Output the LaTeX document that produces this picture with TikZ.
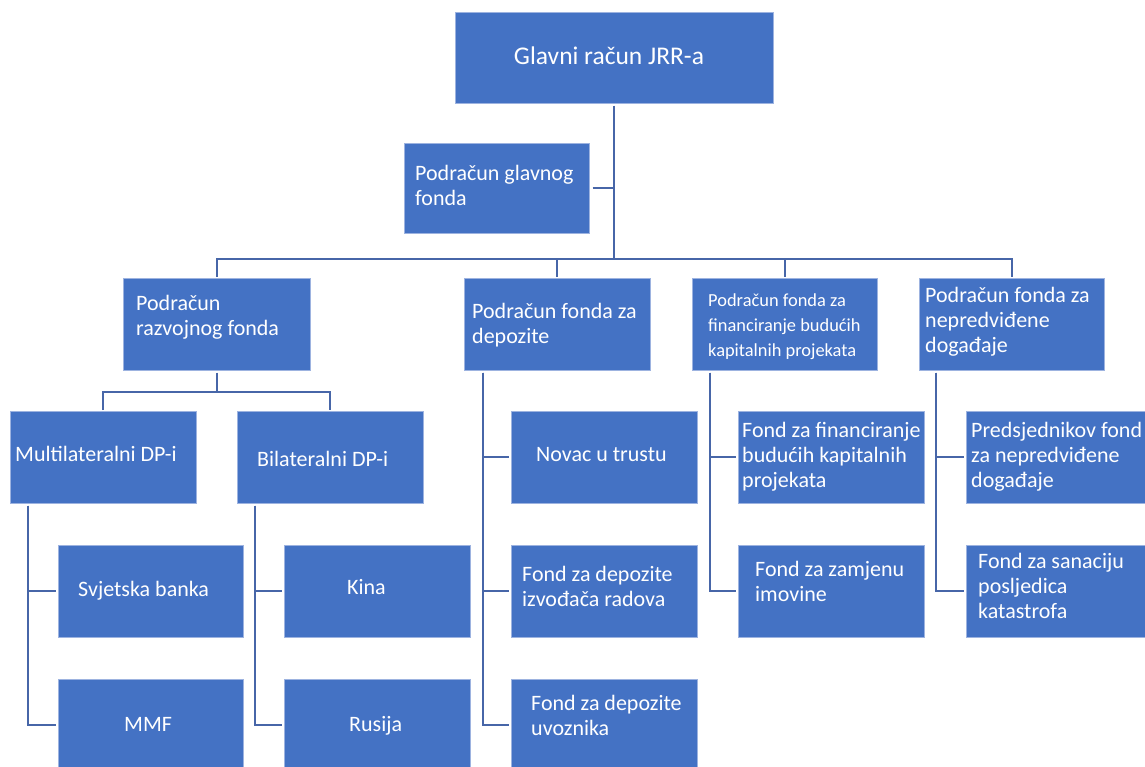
\documentclass[tikz,border=0pt]{standalone}
\usepackage{fontspec}
\setmainfont{Carlito}
\definecolor{boxblue}{HTML}{4472C4}
\definecolor{boxedge}{HTML}{9DB3E0}
\definecolor{connblue}{HTML}{4766A8}
\newcommand{\ml}[1]{\begin{tabular}[t]{@{}l@{}}#1\end{tabular}}
\tikzset{
  box/.style={draw=boxedge, line width=0.7pt, fill=boxblue, anchor=north west, inner sep=0pt, minimum height=92pt},
  txt/.style={text=white, inner sep=0pt, anchor=base west, font=\fontsize{22}{25}\selectfont},
  smalltxt/.style={txt, font=\fontsize{18.4}{25}\selectfont},
  conn/.style={draw=connblue, line width=2pt}
}
\begin{document}
\begin{tikzpicture}[x=1pt, y=-1pt]
\useasboundingbox (0,0) rectangle (1145,767);
\clip (0,0) rectangle (1145,767);

% boxes
\node[box, minimum width=318pt, minimum height=91pt] (main) at (455,12) {};
\node[box, minimum width=185pt, minimum height=90pt] (glav) at (404,143) {};
\node[box, minimum width=187pt] (razv) at (123,278) {};
\node[box, minimum width=186pt] (dep) at (464,278) {};
\node[box, minimum width=185pt] (fin) at (692,278) {};
\node[box, minimum width=185pt] (nep) at (919,278) {};
\node[box, minimum width=186pt] (multi) at (10,411) {};
\node[box, minimum width=186pt] (bil) at (237,411) {};
\node[box, minimum width=185pt] (svj) at (58,545) {};
\node[box, minimum width=185pt] (mmf) at (58,679) {};
\node[box, minimum width=186pt] (kina) at (284,545) {};
\node[box, minimum width=186pt] (rus) at (284,679) {};
\node[box, minimum width=186pt] (nov) at (511,411) {};
\node[box, minimum width=186pt] (izv) at (511,545) {};
\node[box, minimum width=186pt] (uvo) at (511,679) {};
\node[box, minimum width=186pt] (ffin) at (738,411) {};
\node[box, minimum width=186pt] (zam) at (738,545) {};
\node[box, minimum width=186pt] (pre) at (966,411) {};
\node[box, minimum width=186pt] (san) at (966,545) {};

% texts
\node[txt, anchor=base, font=\fontsize{25.5}{28}\selectfont] (mainT) at (609,65) {Glavni račun JRR-a};
\node[txt] (glavT) at (415,181) {\ml{Podračun glavnog\\fonda}};
\node[txt] (razvT) at (136,310) {\ml{Podračun\\razvojnog fonda}};
\node[txt] (depT) at (472,318) {\ml{Podračun fonda za\\depozite}};
\node[smalltxt] (finT) at (708,306) {\ml{Podračun fonda za\\financiranje budućih\\kapitalnih projekata}};
\node[txt] (nepT) at (925,302) {\ml{Podračun fonda za\\nepredviđene\\događaje}};
\node[txt] (multiT) at (15,461) {Multilateralni DP-i};
\node[txt] (bilT) at (257,466) {Bilateralni DP-i};
\node[txt] (svjT) at (78,596) {Svjetska banka};
\node[txt] (kinaT) at (347,594) {Kina};
\node[txt] (mmfT) at (124,731) {MMF};
\node[txt] (rusT) at (349,731) {Rusija};
\node[txt] (novT) at (536,461) {Novac u trustu};
\node[txt] (izvT) at (522,581) {\ml{Fond za depozite\\izvođača radova}};
\node[txt] (uvoT) at (531,710) {\ml{Fond za depozite\\uvoznika}};
\node[txt] (ffinT) at (742,437) {\ml{Fond za financiranje\\budućih kapitalnih\\projekata}};
\node[txt] (zamT) at (755,576) {\ml{Fond za zamjenu\\imovine}};
\node[txt] (preT) at (971,437) {\ml{Predsjednikov fond\\za nepredviđene\\događaje}};
\node[txt] (sanT) at (978,568) {\ml{Fond za sanaciju\\posljedica\\katastrofa}};

% connectors: top level
\coordinate (tbus) at ([yshift=-155pt]main.south);
\draw[conn] ([yshift=-2pt]main.south) -- (tbus);
\draw[conn] ([xshift=3pt]glav.east) -- (glav.east -| main.south);
\draw[conn] ([yshift=1pt]razv.north) |- (tbus) -| ([yshift=1pt]nep.north);
\draw[conn] ([yshift=1pt]dep.north) -- (dep.north |- tbus);
\draw[conn] ([yshift=1pt]fin.north) -- (fin.north |- tbus);

% razvojni fond
\coordinate (rbus) at ([yshift=-21pt]razv.south);
\draw[conn] ([yshift=-2pt]razv.south) -- (rbus);
\draw[conn] ([yshift=1pt]multi.north) |- (rbus) -| ([yshift=1pt]bil.north);

% left branches
\draw[conn] ([xshift=18pt,yshift=-2pt]multi.south west) |- ([xshift=-2pt]svj.west);
\draw[conn] ([xshift=18pt,yshift=-2pt]multi.south west) |- ([xshift=-2pt]mmf.west);
\draw[conn] ([xshift=18pt,yshift=-2pt]bil.south west) |- ([xshift=-2pt]kina.west);
\draw[conn] ([xshift=18pt,yshift=-2pt]bil.south west) |- ([xshift=-2pt]rus.west);
\draw[conn] ([xshift=19pt,yshift=-2pt]dep.south west) |- ([xshift=-2pt]nov.west);
\draw[conn] ([xshift=19pt,yshift=-2pt]dep.south west) |- ([xshift=-2pt]izv.west);
\draw[conn] ([xshift=19pt,yshift=-2pt]dep.south west) |- ([xshift=-2pt]uvo.west);
\draw[conn] ([xshift=18pt,yshift=-2pt]fin.south west) |- ([xshift=-2pt]ffin.west);
\draw[conn] ([xshift=18pt,yshift=-2pt]fin.south west) |- ([xshift=-2pt]zam.west);
\draw[conn] ([xshift=17pt,yshift=-2pt]nep.south west) |- ([xshift=-2pt]pre.west);
\draw[conn] ([xshift=17pt,yshift=-2pt]nep.south west) |- ([xshift=-2pt]san.west);
\end{tikzpicture}
\end{document}
